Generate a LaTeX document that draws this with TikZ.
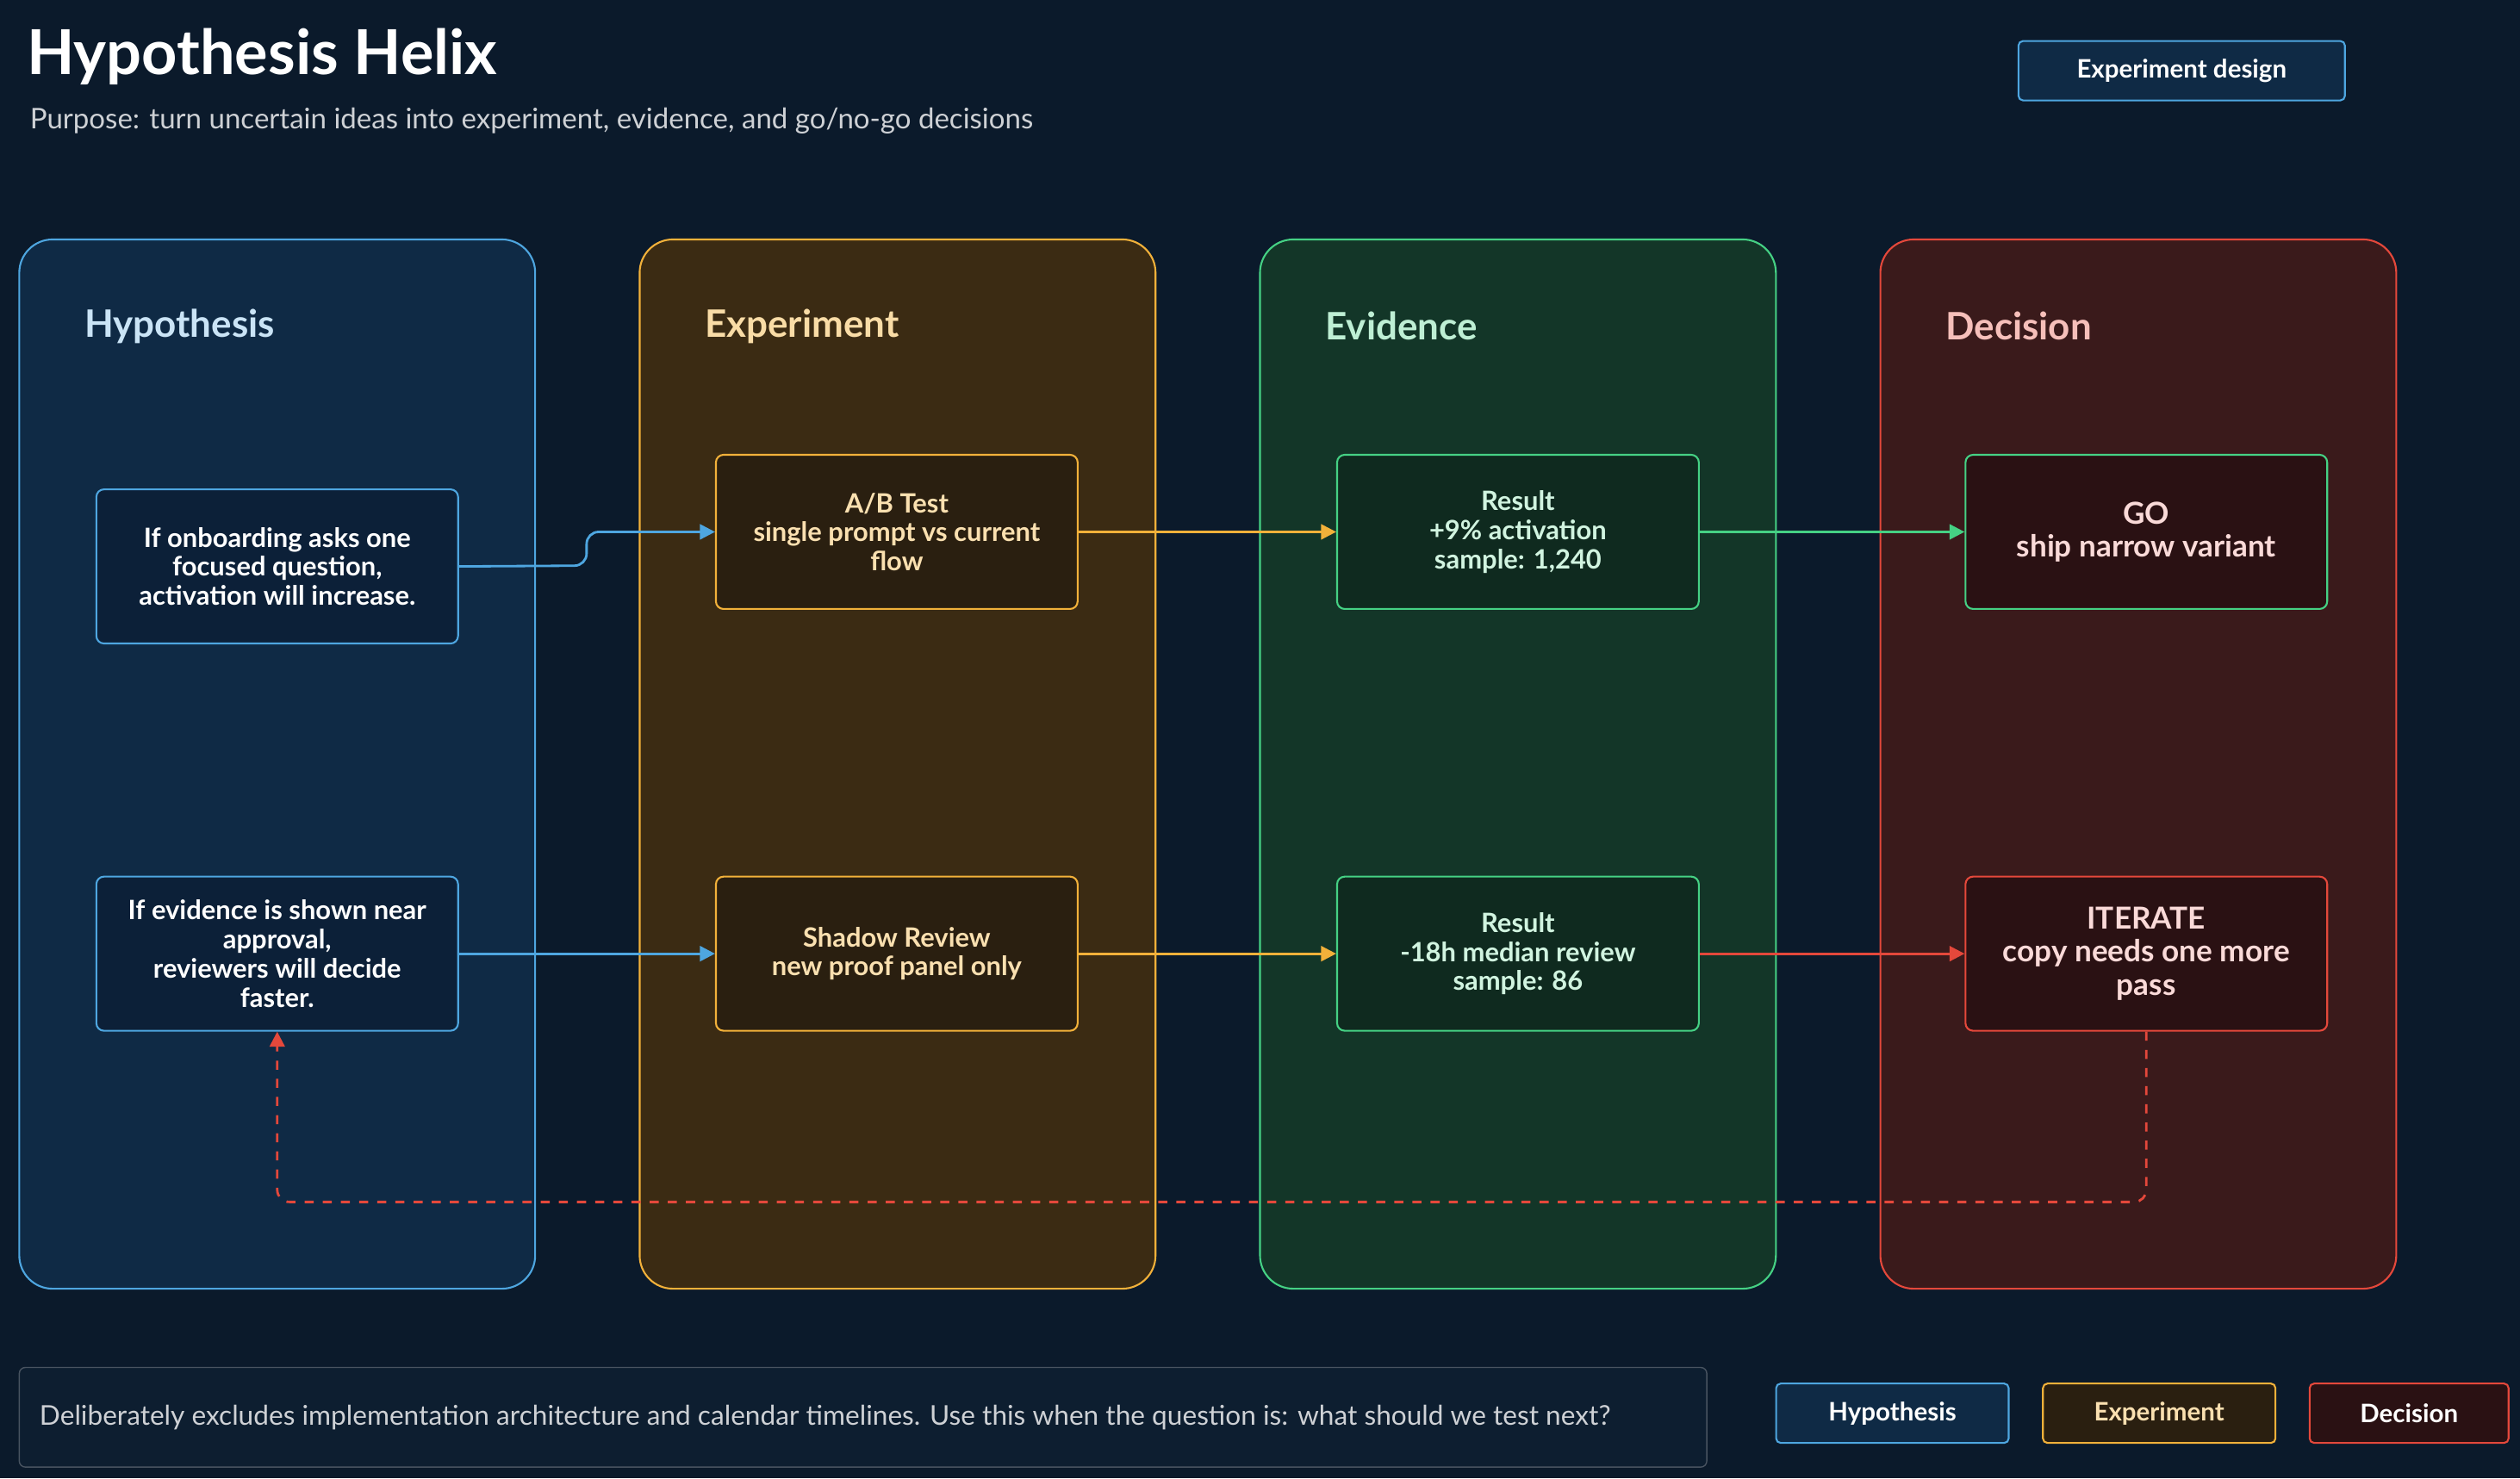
\documentclass[tikz,border=0pt]{standalone}
\usepackage{fontspec}
\setmainfont{Lato}
\usetikzlibrary{arrows.meta,positioning}

\definecolor{bgc}{HTML}{0B1A2B}
\definecolor{hypline}{HTML}{4EA6E0}
\definecolor{hypfill}{HTML}{0F2A45}
\definecolor{hypbox}{HTML}{0C2038}
\definecolor{expline}{HTML}{F2B13A}
\definecolor{expfill}{HTML}{3B2B13}
\definecolor{expbox}{HTML}{2A1F10}
\definecolor{evdline}{HTML}{45D184}
\definecolor{evdfill}{HTML}{133628}
\definecolor{evdbox}{HTML}{0F2A1F}
\definecolor{decline}{HTML}{E4483B}
\definecolor{decfill}{HTML}{3A1A1B}
\definecolor{decbox}{HTML}{2A1113}
\definecolor{foot}{HTML}{0D1E30}

\tikzset{
  column/.style={draw=#1line, fill=#1fill, rounded corners=11pt, line width=0.6pt},
  coltitle/.style={anchor=west, font=\fontsize{12.5}{14}\selectfont\bfseries, text=#1},
  card/.style={draw=#1line, fill=#1box, rounded corners=2.5pt, line width=0.6pt,
    minimum width=4.2cm, minimum height=1.79cm, align=center,
    font=\fontsize{8.8}{9.6}\selectfont\bfseries},
  flow/.style={draw=#1line, line width=0.8pt, -{Triangle[length=5pt,width=5pt]}},
  chip/.style={draw=#1line, fill=#1box, rounded corners=1.5pt, line width=0.6pt,
    minimum height=0.69cm, font=\fontsize{8.4}{9}\selectfont\bfseries, text=white}
}

\begin{document}
\begin{tikzpicture}[x=0.018654cm, y=-0.018654cm]
\useasboundingbox[fill=bgc] (0,0) rectangle (1568,920);

%% Title
\node[anchor=west, text=white, font=\fontsize{20.5}{24}\selectfont\bfseries] (title) at (10,35) {Hypothesis Helix};
\node[anchor=west, text=white!80!bgc, font=\fontsize{9.4}{11}\selectfont] (purpose) at (12,75)
  {Purpose: turn uncertain ideas into experiment, evidence, and go/no-go decisions};
\node[chip=hyp, minimum width=3.79cm, fill=hypfill] (badge) at (1357.5,44) {Experiment design};

%% Columns
\draw[column=hyp] (12,149) rectangle (333,802);
\draw[column=exp] (398,149) rectangle (719,802);
\draw[column=evd] (784,149) rectangle (1105,802);
\draw[column=dec] (1170,149) rectangle (1491,802);

\node[coltitle=hypline!30!white] (thyp) at (46,203) {Hypothesis};
\node[coltitle=expline!45!white] (texp) at (432,203) {Experiment};
\node[coltitle=evdline!35!white] (tevd) at (818,203) {Evidence};
\node[coltitle=decline!35!white] (tdec) at (1204,203) {Decision};

%% Cards
\node[card=hyp, text=white] (hypA) at (172.5,352.5) {If onboarding asks one\\ focused question,\\ activation will increase.};
\node[card=hyp, text=white] (hypB) at (172.5,593.5) {If evidence is shown near\\ approval,\\ reviewers will decide\\ faster.};
\node[card=exp, text=expline!40!white] (expA) at (558,331) {A/B Test\\ single prompt vs current\\ flow};
\node[card=exp, text=expline!40!white] (expB) at (558,593.5) {Shadow Review\\ new proof panel only};
\node[card=evd, text=evdline!25!white] (evdA) at (944.5,331) {Result\\ +9\% activation\\ sample: 1,240};
\node[card=evd, text=evdline!25!white] (evdB) at (944.5,593.5) {Result\\ -18h median review\\ sample: 86};
\node[card=dec, draw=evdline, text=decline!20!white, font=\fontsize{10}{11}\selectfont\bfseries] (decA) at (1335.5,331) {GO\\ ship narrow variant};
\node[card=dec, text=decline!20!white, font=\fontsize{10}{11}\selectfont\bfseries] (decB) at (1335.5,593.5) {ITERATE\\ copy needs one more\\ pass};

%% Connectors
\draw[flow=hyp, rounded corners=4pt] (hypA.east) -- (365,352) -- (365,331) -- (expA.west);
\draw[flow=hyp] (hypB) -- (expB);
\draw[flow=exp] (expA) -- (evdA);
\draw[flow=exp] (expB) -- (evdB);
\draw[flow=evd] (evdA) -- (decA);
\draw[flow=dec] (evdB) -- (decB);
\coordinate (loopR) at (1335.5,748);
\coordinate (loopL) at (172.5,748);
\draw[flow=dec, dashed, rounded corners=4pt] (decB.south) -- (loopR) -- (loopL) -- (hypB.south);

%% Footer
\draw[draw=white!25!bgc, fill=foot, rounded corners=2pt] (12,851) rectangle (1062,913);
\node[anchor=west, text=white!80!bgc, font=\fontsize{9}{10}\selectfont] (note) at (18,882)
  {Deliberately excludes implementation architecture and calendar timelines. Use this when the question is: what should we test next?};

%% Legend
\node[chip=hyp, minimum width=2.7cm, fill=hypfill] (lhyp) at (1177.5,879.5) {Hypothesis};
\node[chip=exp, minimum width=2.7cm, text=expline!40!white] (lexp) at (1343.5,879.5) {Experiment};
\node[chip=dec, minimum width=2.31cm] (ldec) at (1499,879.5) {Decision};
\end{tikzpicture}
\end{document}
